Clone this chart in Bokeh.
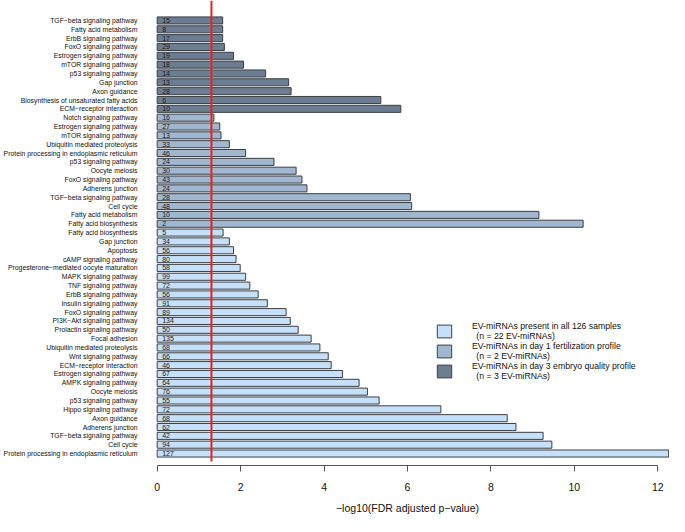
from bokeh.plotting import figure
from bokeh.models import FixedTicker, Legend, LegendItem, ColumnDataSource
from bokeh.embed import file_html
from bokeh.resources import INLINE
from bokeh.core.properties import value

M = "\u2212"

# Group 3: day 3 embryo quality profile (top block, top -> bottom)
dark_terms = [f"TGF{M}beta signaling pathway", "Fatty acid metabolism", "ErbB signaling pathway",
              "FoxO signaling pathway", "Estrogen signaling pathway", "mTOR signaling pathway",
              "p53 signaling pathway", "Gap junction", "Axon guidance",
              "Biosynthesis of unsaturated fatty acids", f"ECM{M}receptor interaction"]
dark_vals = [1.57, 1.57, 1.57, 1.61, 1.83, 2.07, 2.60, 3.15, 3.21, 5.36, 5.84]
dark_counts = [15, 8, 17, 29, 19, 18, 14, 13, 28, 6, 10]

# Group 2: day 1 fertilization profile (middle block)
mid_terms = ["Notch signaling pathway", "Estrogen signaling pathway", "mTOR signaling pathway",
             "Ubiquitin mediated proteolysis", "Protein processing in endoplasmic reticulum",
             "p53 signaling pathway", "Oocyte meiosis", "FoxO signaling pathway", "Adherens junction",
             f"TGF{M}beta signaling pathway", "Cell cycle", "Fatty acid metabolism",
             "Fatty acid biosynthesis"]
mid_vals = [1.36, 1.50, 1.53, 1.73, 2.12, 2.80, 3.33, 3.47, 3.59, 6.07, 6.10, 9.15, 10.21]
mid_counts = [16, 27, 13, 33, 46, 24, 30, 43, 24, 28, 48, 10, 2]

# Group 1: present in all 126 samples (bottom block)
light_terms = ["Fatty acid biosynthesis", "Gap junction", "Apoptosis", "cAMP signaling pathway",
               f"Progesterone{M}mediated oocyte maturation", "MAPK signaling pathway",
               "TNF signaling pathway", "ErbB signaling pathway", "Insulin signaling pathway",
               "FoxO signaling pathway", f"PI3K{M}Akt signaling pathway", "Prolactin signaling pathway",
               "Focal adhesion", "Ubiquitin mediated proteolysis", "Wnt signaling pathway",
               f"ECM{M}receptor interaction", "Estrogen signaling pathway", "AMPK signaling pathway",
               "Oocyte meiosis", "p53 signaling pathway", "Hippo signaling pathway", "Axon guidance",
               "Adherens junction", f"TGF{M}beta signaling pathway", "Cell cycle",
               "Protein processing in endoplasmic reticulum"]
light_vals = [1.58, 1.73, 1.83, 1.89, 1.99, 2.12, 2.22, 2.42, 2.64, 3.09, 3.19, 3.38, 3.69, 3.90,
              4.10, 4.17, 4.44, 4.84, 5.04, 5.32, 6.80, 8.39, 8.60, 9.25, 9.46, 12.26]
light_counts = [5, 34, 56, 80, 58, 99, 72, 56, 91, 89, 134, 50, 135, 68, 66, 46, 67, 64, 76, 55,
                72, 68, 62, 42, 94, 127]

legend_labels = ["EV-miRNAs present in all 126 samples\n\u2002(n = 22 EV-miRNAs)",
                 "EV-miRNAs in day 1 fertilization profile\n\u2002(n = 2 EV-miRNAs)",
                 "EV-miRNAs in day 3 embryo quality profile\n\u2002(n = 3 EV-miRNAs)"]
x_ticks = [0, 2, 4, 6, 8, 10, 12]
threshold = 1.30103  # -log10(0.05)

colors = {"light": "#C6E0FA", "mid": "#A1B6CF", "dark": "#6D7D91"}
FONT = "Liberation Sans"

groups = [("dark", dark_terms, dark_vals, dark_counts),
          ("mid", mid_terms, mid_vals, mid_counts),
          ("light", light_terms, light_vals, light_counts)]
N = sum(len(g[1]) for g in groups)

FRAME_H = 466
TOP_C, BOT_C = 20, 454
pitch = (BOT_C - TOP_C) / (N - 1)
y_end = (N - 1) + TOP_C / pitch
y_start = -(FRAME_H - BOT_C) / pitch
red_bottom = -(462 - BOT_C) / pitch

p = figure(width=669, height=516, output_backend="svg", toolbar_location=None,
           x_range=(-0.28, 12.28), y_range=(y_start, y_end),
           min_border_left=140, min_border_right=0, min_border_top=0,
           min_border_bottom=516 - FRAME_H)

renderers = {}
labels_map = {}
idx = 0
for key, terms, vals, counts in groups:
    ys = [N - 1 - (idx + i) for i in range(len(terms))]
    for yy, t in zip(ys, terms):
        labels_map[yy] = t
    src = ColumnDataSource(dict(y=ys, v=vals, c=[str(c) for c in counts]))
    r = p.hbar(y="y", left=0, right="v", height=0.8, source=src,
               fill_color=colors[key], line_color="#3A3F46", line_width=1)
    p.text(x=0, y="y", text="c", source=src, x_offset=5, text_font_size="7px",
           text_baseline="middle", text_align="left", text_color="#1a1a1a",
           text_font=value(FONT))
    renderers[key] = r
    idx += len(terms)

p.segment(x0=[threshold], x1=[threshold], y0=[y_end], y1=[red_bottom],
          line_color="#E8231F", line_width=2)

# axes
p.xgrid.visible = False
p.ygrid.visible = False
p.outline_line_color = None

xa = p.xaxis[0]
xa.ticker = FixedTicker(ticks=x_ticks)
xa.bounds = (0, 12)
xa.axis_line_color = "#555555"
xa.major_tick_line_color = "#555555"
xa.major_tick_out = 6
xa.major_tick_in = 0
xa.minor_tick_line_color = None
xa.major_label_standoff = 11
xa.major_label_text_font_size = "10.5px"
xa.major_label_text_font = FONT
xa.major_label_text_color = "#111111"
xa.axis_label = f"{M}log10(FDR adjusted p{M}value)"
xa.axis_label_text_font_size = "10.5px"
xa.axis_label_text_font = FONT
xa.axis_label_text_font_style = "normal"
xa.axis_label_text_color = "#111111"
xa.axis_label_standoff = 8

ya = p.yaxis[0]
ya.ticker = FixedTicker(ticks=list(range(N)))
ya.major_label_overrides = {k: v for k, v in labels_map.items()}
ya.axis_line_color = None
ya.major_tick_line_color = None
ya.minor_tick_line_color = None
ya.major_label_standoff = 2
ya.major_label_text_font_size = "6.85px"
ya.major_label_text_font = FONT
ya.major_label_text_color = "#111111"

legend = Legend(items=[LegendItem(label=legend_labels[0], renderers=[renderers["light"]]),
                       LegendItem(label=legend_labels[1], renderers=[renderers["mid"]]),
                       LegendItem(label=legend_labels[2], renderers=[renderers["dark"]])],
                location=(290, 84))
legend.glyph_width = 18
legend.glyph_height = 16
legend.label_standoff = 19
legend.spacing = 0
legend.padding = 0
legend.margin = 0
legend.border_line_color = None
legend.background_fill_alpha = 0
legend.label_text_font_size = "8.7px"
legend.label_text_font = FONT
legend.label_text_color = "#111111"
legend.label_text_line_height = 1.2
p.add_layout(legend)

open("out.html", "w").write(file_html(p, INLINE))
